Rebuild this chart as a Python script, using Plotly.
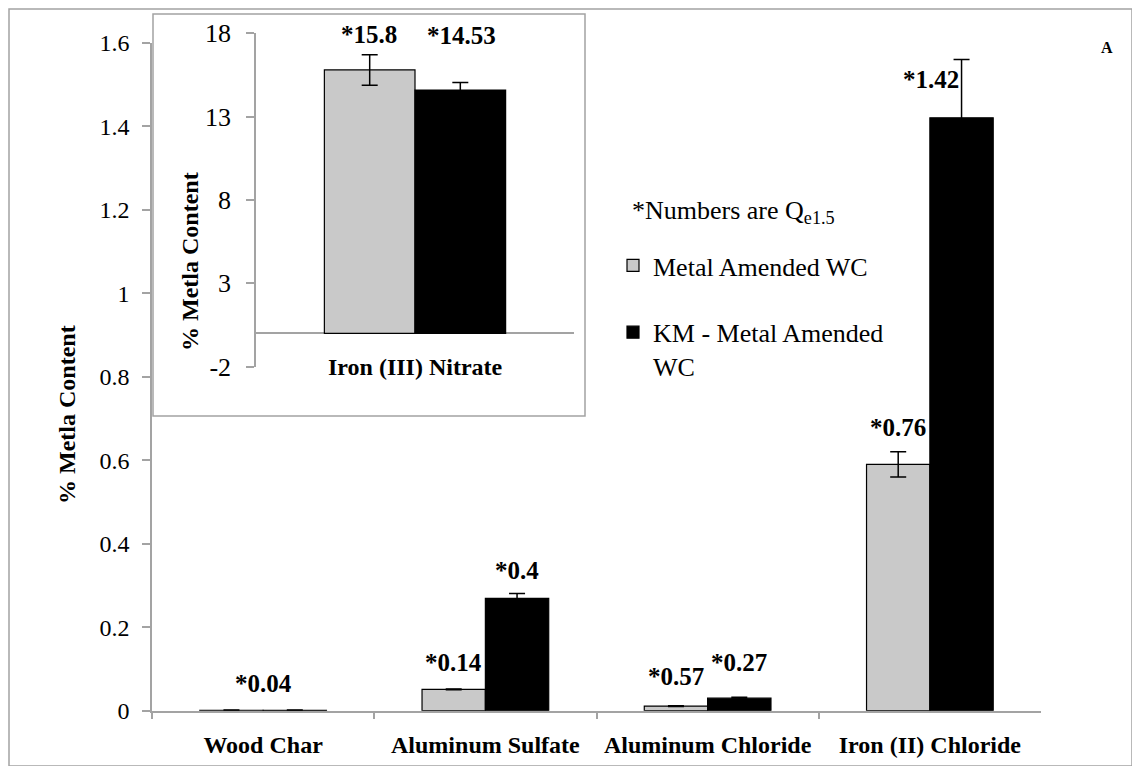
import plotly.graph_objects as go

# ---------------- data ----------------
categories = ["Wood Char", "Aluminum Sulfate", "Aluminum Chloride", "Iron (II) Chloride"]
amended = [0.001, 0.051, 0.011, 0.59]
amended_err = [0.0005, 0.001, 0.001, 0.03]
km_amended = [0.001, 0.269, 0.030, 1.42]
km_err = [0.0005, 0.012, 0.002, 0.14]
amended_labels = ["", "*0.14", "*0.57", "*0.76"]
km_labels = ["*0.04", "*0.4", "*0.27", "*1.42"]
main_yticks = [0, 0.2, 0.4, 0.6, 0.8, 1.0, 1.2, 1.4, 1.6]

inset_category = ["Iron (III) Nitrate"]
inset_amended = [15.8]
inset_amended_err = [0.92]
inset_km = [14.6]
inset_km_err = [0.45]
inset_amended_labels = ["*15.8"]
inset_km_labels = ["*14.53"]
inset_yticks = [-2, 3, 8, 13, 18]

series_names = ["Metal Amended WC", "KM - Metal Amended<br>WC"]

# ---------------- style ----------------
PAGE_MARGIN = 8            # default body margin of the page
W, H = 1140 - 2 * PAGE_MARGIN, 774 - 2 * PAGE_MARGIN
SERIF = "Liberation Serif"
GRAY_FILL = "#C9C9C9"
AXIS = "#A3A3A3"
MAIN_GAP = 0.43
INSET_GAP = 0.42


def px_x(p):
    """page x pixel -> paper fraction"""
    return (p - PAGE_MARGIN) / W


def px_y(p):
    """page y pixel -> paper fraction"""
    return 1 - (p - PAGE_MARGIN) / H


fig = go.Figure()

err_style = dict(type="data", color="black", thickness=1.5, width=8, visible=True)

fig.add_trace(go.Bar(x=categories, y=amended, name=series_names[0],
                     marker=dict(color=GRAY_FILL, line=dict(color="black", width=1.2)),
                     error_y=dict(array=amended_err, **err_style),
                     legendgroup="a", xaxis="x", yaxis="y"))
fig.add_trace(go.Bar(x=categories, y=km_amended, name=series_names[1],
                     marker=dict(color="black", line=dict(color="black", width=1.2)),
                     error_y=dict(array=km_err, **err_style),
                     legendgroup="b", xaxis="x", yaxis="y"))

fig.add_trace(go.Bar(x=inset_category, y=inset_amended, showlegend=False,
                     marker=dict(color=GRAY_FILL, line=dict(color="black", width=1.2)),
                     error_y=dict(array=inset_amended_err, **err_style),
                     xaxis="x2", yaxis="y2"))
fig.add_trace(go.Bar(x=inset_category, y=inset_km, showlegend=False,
                     marker=dict(color="black", line=dict(color="black", width=1.2)),
                     error_y=dict(array=inset_km_err, **err_style),
                     xaxis="x2", yaxis="y2"))

# ------------- value labels -------------
lab_font = dict(family=SERIF, size=25, color="black", weight="bold")
half = (1 - MAIN_GAP) / 4  # offset of each bar centre within a category
amended_shift = [26, 26, 29, 24]
km_mode = ["centre", "bar", "bar", "side"]
km_shift = [27, 23, 35, 38]

annotations = []
for i, (t, v, e) in enumerate(zip(amended_labels, amended, amended_err)):
    if t:
        annotations.append(dict(x=i - half, y=v + e, xref="x", yref="y", text=t,
                                xanchor="center", yanchor="middle",
                                showarrow=False, yshift=amended_shift[i], font=lab_font))
for i, (t, v, e) in enumerate(zip(km_labels, km_amended, km_err)):
    mode = km_mode[i]
    a = dict(xref="x", yref="y", text=t, showarrow=False, xanchor="center", yanchor="middle",
             yshift=km_shift[i], font=lab_font)
    if mode == "centre":      # centred on the category
        a.update(x=i, y=v + e)
    elif mode == "side":      # beside the error bar, below the axis top
        a.update(x=i + half, y=v, xshift=-31)
    else:
        a.update(x=i + half, y=v + e)
    annotations.append(a)

ihalf = (1 - INSET_GAP) / 4
annotations.append(dict(x=-ihalf, y=inset_amended[0] + inset_amended_err[0], xref="x2", yref="y2",
                        text=inset_amended_labels[0], showarrow=False, yshift=20,
                        xanchor="center", yanchor="middle", font=lab_font))
annotations.append(dict(x=ihalf, y=inset_km[0] + inset_km_err[0], xref="x2", yref="y2",
                        text=inset_km_labels[0], showarrow=False, yshift=47,
                        xanchor="center", yanchor="middle", font=lab_font))
# inset category label (sits at the level of the lowest tick)
annotations.append(dict(x=0, y=inset_yticks[0], xref="x2", yref="y2", text=inset_category[0],
                        showarrow=False, xanchor="center", yanchor="middle",
                        font=dict(family=SERIF, size=24, color="black", weight="bold")))

# axis titles
title_font = dict(family=SERIF, size=24, color="black", weight="bold")
annotations.append(dict(x=px_x(67), y=px_y(415), xref="paper", yref="paper", text="% Metla Content",
                        textangle=-90, showarrow=False, xanchor="center", yanchor="middle",
                        font=title_font))
annotations.append(dict(x=px_x(190), y=px_y(262), xref="paper", yref="paper", text="% Metla Content",
                        textangle=-90, showarrow=False, xanchor="center", yanchor="middle",
                        font=title_font))
# legend note and panel letter
annotations.append(dict(x=px_x(630), y=px_y(212), xref="paper", yref="paper",
                        xanchor="left", yanchor="middle",
                        text="*Numbers are Q<sub>e1.5</sub>", showarrow=False,
                        font=dict(family=SERIF, size=26, color="black")))
annotations.append(dict(x=px_x(1107), y=px_y(47), xref="paper", yref="paper", text="A",
                        xanchor="center", yanchor="middle", showarrow=False,
                        font=dict(family=SERIF, size=16, color="black", weight="bold")))

shapes = [
    dict(type="rect", xref="paper", yref="paper", x0=px_x(9), x1=px_x(1132), y0=px_y(766), y1=px_y(9),
         line=dict(color=AXIS, width=1.5), fillcolor="rgba(0,0,0,0)", layer="below"),
    dict(type="rect", xref="paper", yref="paper", x0=px_x(153), x1=px_x(585), y0=px_y(416), y1=px_y(14),
         line=dict(color=AXIS, width=1.5), fillcolor="white", layer="below"),
]

fig.update_layout(
    template="none",
    width=W, height=H,
    margin=dict(l=0, r=0, t=0, b=0, pad=0, autoexpand=False),
    paper_bgcolor="white", plot_bgcolor="rgba(0,0,0,0)",
    barmode="group", bargap=MAIN_GAP, bargroupgap=0,
    showlegend=True,
    legend=dict(x=px_x(613), y=px_y(242), xanchor="left", yanchor="top",
                font=dict(family=SERIF, size=26, color="black"),
                bgcolor="rgba(0,0,0,0)", tracegroupgap=30, valign="top"),
    xaxis=dict(domain=[px_x(152), px_x(1041)], type="category", anchor="y", automargin=False,
               showline=True, linecolor=AXIS, linewidth=1.5,
               ticks="outside", tickson="boundaries", ticklen=7, tickcolor=AXIS, tickwidth=1.5,
               tickfont=dict(family=SERIF, size=24, color="black", weight="bold"),
               ticklabelstandoff=12, showgrid=False, zeroline=False),
    yaxis=dict(domain=[px_y(710.7), px_y(42.7)], range=[0, 1.6], anchor="x", automargin=False,
               tickvals=main_yticks, showline=True, linecolor=AXIS, linewidth=1.5,
               ticks="outside", ticklen=8, tickcolor=AXIS, tickwidth=1.5,
               tickfont=dict(family=SERIF, size=24, color="black"),
               ticklabelstandoff=8, showgrid=False, zeroline=False),
    xaxis2=dict(domain=[px_x(256), px_x(574)], type="category", anchor="y2", automargin=False,
                showline=False, showticklabels=False, ticks="", showgrid=False, zeroline=False),
    yaxis2=dict(domain=[px_y(366.7), px_y(33.3)], range=[-2, 18], anchor="x2", automargin=False,
                tickvals=inset_yticks, ticktext=[str(t) for t in inset_yticks],
                showline=True, linecolor=AXIS, linewidth=1.5,
                ticks="outside", ticklen=8, tickcolor=AXIS, tickwidth=1.5,
                tickfont=dict(family=SERIF, size=26, color="black"),
                ticklabelstandoff=10, showgrid=False,
                zeroline=True, zerolinecolor=AXIS, zerolinewidth=1.5),
    annotations=annotations,
    shapes=shapes,
)

fig.write_html("out.html", config={"displayModeBar": False})
